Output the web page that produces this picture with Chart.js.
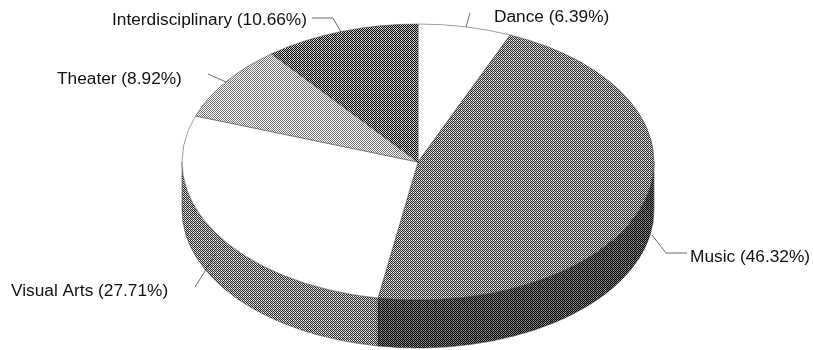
<!DOCTYPE html>
<html>
<head>
<meta charset="utf-8">
<style>
  html, body { margin: 0; padding: 0; background: #fff; }
  #wrap { width: 814px; height: 350px; overflow: hidden; }
</style>
<script src="https://cdn.jsdelivr.net/npm/chart.js@4/dist/chart.umd.min.js"></script>
</head>
<body>
<div id="wrap"><canvas id="pie" width="814" height="350"></canvas></div>
<script>
// data
const categories = ["Dance", "Music", "Visual Arts", "Theater", "Interdisciplinary"];
const shares = [6.39, 46.32, 27.71, 8.92, 10.66];

// pie shape
const radiusX = 236;
const radiusY = 138;
const depth = 48;
const squash = radiusY / radiusX;

// label placement, same order as categories
const labelPos = [[494, 22], [690, 262], [11, 296], [57, 84], [112, 25]];
const leaders = [
    [[470, 13], [466, 27]],
    [[652, 235], [666, 253], [687, 253]],
    [[195, 287], [215, 255]],
    [[208, 74], [226, 82]],
    [[312, 18], [333, 18], [341, 32]]
];

// small pixel tiles for the hatch fills
function makeTile(rows) {
    const c = document.createElement("canvas");
    c.width = rows[0].length;
    c.height = rows.length;
    const g = c.getContext("2d");
    rows.forEach((row, y) => row.forEach((v, x) => {
        g.fillStyle = v;
        g.fillRect(x, y, 1, 1);
    }));
    return document.createElement("canvas").getContext("2d").createPattern(c, "repeat");
}

const K = "#000", D = "#2a2a2a", M = "#777", L = "#c4c4c4", W = "#fff";
const tiles = {
    dark: [[K, W, K, L], [L, K, L, K], [K, L, K, L], [L, K, L, K]],
    mid: [[D, W, D, W], [L, D, L, D], [D, W, D, L], [L, D, L, D]],
    light: [[M, W, M, W], [W, M, W, M], [M, W, M, W], [W, M, W, M]],
    deep: [[K, "#999", K, M], [M, K, "#666", K], [K, "#999", K, M], [M, K, "#666", K]]
};

// top face patterns get squashed with the context, so they carry a counter transform
const topFills = [W, makeTile(tiles.mid), W, makeTile(tiles.light), makeTile(tiles.dark)];
const sideFills = [W, makeTile(tiles.deep), makeTile(tiles.mid), W, W];

const squashPlugin = {
    id: "squash",
    beforeDatasetsDraw(chart) {
        const ctx = chart.ctx;
        const arcs = chart.getDatasetMeta(0).data;
        const cx = arcs[0].x;
        const cy = arcs[0].y;

        // side wall, only the front half shows
        arcs.forEach((arc, i) => {
            const from = Math.max(arc.startAngle, 0);
            const to = Math.min(arc.endAngle, Math.PI);
            if (to <= from) return;
            ctx.beginPath();
            ctx.ellipse(cx, cy, radiusX, radiusY, 0, from, to);
            ctx.ellipse(cx, cy + depth, radiusX, radiusY, 0, to, from, true);
            ctx.closePath();
            ctx.fillStyle = sideFills[i];
            ctx.fill();
            ctx.strokeStyle = "#333";
            ctx.lineWidth = 0.5;
            ctx.stroke();
        });

        topFills.forEach(p => {
            if (p instanceof CanvasPattern) {
                p.setTransform(new DOMMatrix().scale(1, 1 / squash).translate(0, -cy * (1 - squash)));
            }
        });

        ctx.save();
        ctx.translate(0, cy);
        ctx.scale(1, squash);
        ctx.translate(0, -cy);
    },
    afterDatasetsDraw(chart) {
        chart.ctx.restore();
    },
    afterDraw(chart) {
        const ctx = chart.ctx;
        ctx.save();
        ctx.strokeStyle = "#444";
        ctx.lineWidth = 0.8;
        leaders.forEach(pts => {
            ctx.beginPath();
            pts.forEach((p, i) => i ? ctx.lineTo(p[0], p[1]) : ctx.moveTo(p[0], p[1]));
            ctx.stroke();
        });
        ctx.fillStyle = "#111";
        ctx.font = "17.3px 'Liberation Sans'";
        categories.forEach((name, i) => {
            ctx.fillText(name + " (" + shares[i].toFixed(2) + "%)", labelPos[i][0], labelPos[i][1]);
        });
        ctx.restore();
    }
};

new Chart(document.getElementById("pie").getContext("2d"), {
    type: "pie",
    data: {
        labels: categories,
        datasets: [{
            data: shares,
            backgroundColor: topFills,
            borderColor: "#333",
            borderWidth: 0.6,
            clip: false
        }]
    },
    options: {
        responsive: false,
        animation: false,
        events: [],
        radius: radiusX,
        layout: { padding: { left: 22, bottom: 26 } },
        plugins: { legend: { display: false }, tooltip: { enabled: false } }
    },
    plugins: [squashPlugin]
});
</script>
</body>
</html>
